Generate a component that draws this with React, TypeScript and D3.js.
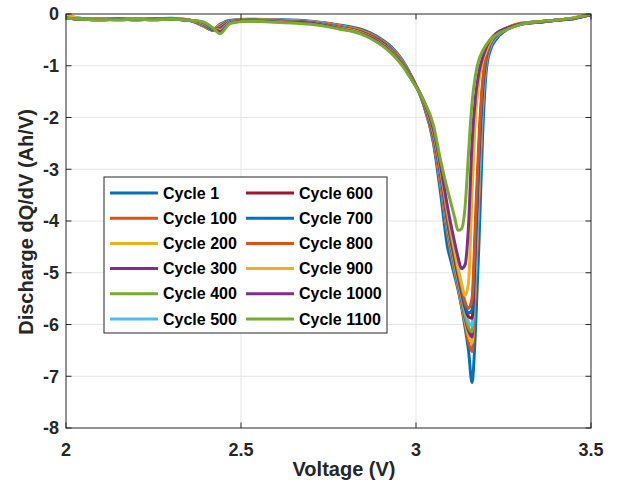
import React from 'react';
import * as d3 from 'd3';

// voltage grid shared by all cycles (V)
const voltage = [
  2.0, 2.05, 2.1, 2.15, 2.2, 2.25, 2.3, 2.35, 2.39, 2.42, 2.44, 2.47,
  2.52, 2.6, 2.7, 2.78, 2.84, 2.89, 2.93, 2.96, 2.99, 3.02, 3.05, 3.07,
  3.09, 3.1, 3.11, 3.12, 3.13, 3.14, 3.15, 3.16, 3.17, 3.18, 3.19, 3.2,
  3.21, 3.23, 3.26, 3.3, 3.35, 3.4, 3.45, 3.5,
];

// discharge dQ/dV (Ah/V) per cycle
const cycle1 = [
  -0.05, -0.09, -0.1, -0.09, -0.1, -0.09, -0.08, -0.11, -0.22, -0.3, -0.2, -0.12,
  -0.1, -0.11, -0.14, -0.21, -0.29, -0.44, -0.64, -0.88, -1.24, -1.72, -2.5, -3.45,
  -4.5, -4.78, -5.05, -5.32, -5.65, -6.05, -6.5, -7.12, -6.1, -4.4, -2.4, -1.15,
  -0.75, -0.48, -0.3, -0.2, -0.15, -0.12, -0.08, -0.01,
];
const cycle100 = [
  -0.07, -0.1, -0.1, -0.1, -0.1, -0.1, -0.09, -0.11, -0.23, -0.31, -0.21, -0.13,
  -0.11, -0.12, -0.15, -0.22, -0.31, -0.46, -0.66, -0.9, -1.25, -1.71, -2.46, -3.3,
  -4.25, -4.62, -4.96, -5.28, -5.62, -5.98, -6.35, -6.52, -5.3, -3.6, -1.9, -1.0,
  -0.68, -0.44, -0.29, -0.2, -0.15, -0.12, -0.08, -0.01,
];
const cycle200 = [
  0, -0.1, -0.1, -0.11, -0.1, -0.1, -0.09, -0.11, -0.22, -0.31, -0.22, -0.13,
  -0.11, -0.12, -0.15, -0.23, -0.32, -0.47, -0.67, -0.91, -1.26, -1.7, -2.43, -3.25,
  -4.2, -4.57, -4.92, -5.24, -5.57, -5.92, -6.22, -6.36, -5.1, -3.35, -1.8, -0.96,
  -0.66, -0.43, -0.29, -0.19, -0.15, -0.12, -0.08, 0,
];
const cycle300 = [
  -0.06, -0.1, -0.11, -0.1, -0.1, -0.11, -0.09, -0.12, -0.21, -0.32, -0.24, -0.13,
  -0.12, -0.13, -0.16, -0.24, -0.33, -0.48, -0.68, -0.92, -1.26, -1.69, -2.41, -3.2,
  -4.15, -4.52, -4.87, -5.2, -5.52, -5.87, -6.12, -6.24, -4.9, -3.15, -1.7, -0.93,
  -0.64, -0.42, -0.28, -0.19, -0.16, -0.12, -0.09, -0.01,
];
const cycle400 = [
  -0.07, -0.1, -0.1, -0.1, -0.11, -0.1, -0.1, -0.12, -0.2, -0.31, -0.26, -0.14,
  -0.12, -0.13, -0.16, -0.25, -0.33, -0.49, -0.69, -0.93, -1.27, -1.68, -2.39, -3.15,
  -4.1, -4.47, -4.82, -5.15, -5.47, -5.82, -6.05, -6.14, -4.75, -3.0, -1.62, -0.9,
  -0.63, -0.42, -0.28, -0.19, -0.15, -0.12, -0.08, -0.01,
];
const cycle500 = [
  -0.06, -0.09, -0.1, -0.1, -0.1, -0.1, -0.09, -0.11, -0.19, -0.3, -0.27, -0.14,
  -0.12, -0.13, -0.16, -0.25, -0.34, -0.5, -0.7, -0.94, -1.27, -1.68, -2.37, -3.12,
  -4.05, -4.42, -4.77, -5.1, -5.42, -5.75, -5.95, -6.02, -4.95, -3.2, -1.7, -0.94,
  -0.65, -0.43, -0.28, -0.19, -0.15, -0.12, -0.08, -0.01,
];
const cycle600 = [
  -0.07, -0.1, -0.1, -0.11, -0.1, -0.1, -0.1, -0.12, -0.18, -0.3, -0.28, -0.15,
  -0.12, -0.13, -0.17, -0.26, -0.34, -0.5, -0.71, -0.95, -1.27, -1.67, -2.35, -3.08,
  -4.0, -4.37, -4.72, -5.05, -5.37, -5.67, -5.85, -5.88, -4.45, -2.75, -1.5, -0.86,
  -0.61, -0.41, -0.28, -0.19, -0.15, -0.12, -0.08, -0.01,
];
const cycle700 = [
  -0.06, -0.1, -0.1, -0.1, -0.11, -0.1, -0.1, -0.12, -0.18, -0.29, -0.29, -0.15,
  -0.12, -0.14, -0.17, -0.26, -0.35, -0.51, -0.71, -0.95, -1.28, -1.67, -2.33, -3.05,
  -3.95, -4.32, -4.67, -5.0, -5.32, -5.62, -5.78, -5.72, -4.25, -2.6, -1.42, -0.84,
  -0.6, -0.4, -0.27, -0.19, -0.15, -0.12, -0.08, -0.01,
];
const cycle800 = [
  -0.07, -0.1, -0.11, -0.1, -0.1, -0.11, -0.1, -0.12, -0.17, -0.28, -0.3, -0.16,
  -0.13, -0.14, -0.17, -0.27, -0.35, -0.52, -0.72, -0.96, -1.28, -1.66, -2.31, -3.02,
  -3.9, -4.27, -4.62, -4.95, -5.27, -5.56, -5.69, -5.5, -3.95, -2.4, -1.32, -0.8,
  -0.58, -0.39, -0.27, -0.18, -0.15, -0.12, -0.08, -0.01,
];
const cycle900 = [
  0, -0.1, -0.1, -0.11, -0.1, -0.1, -0.1, -0.12, -0.17, -0.28, -0.32, -0.16,
  -0.13, -0.14, -0.18, -0.27, -0.36, -0.52, -0.73, -0.96, -1.29, -1.66, -2.28, -2.98,
  -3.82, -4.2, -4.55, -4.9, -5.2, -5.44, -5.2, -3.5, -2.0, -1.3, -0.92, -0.72,
  -0.56, -0.38, -0.27, -0.18, -0.15, -0.12, -0.07, 0,
];
const cycle1000 = [
  -0.08, -0.1, -0.11, -0.1, -0.11, -0.1, -0.1, -0.12, -0.16, -0.28, -0.34, -0.17,
  -0.13, -0.15, -0.18, -0.28, -0.37, -0.53, -0.74, -0.97, -1.29, -1.65, -2.24, -2.92,
  -3.72, -4.08, -4.4, -4.7, -4.92, -4.85, -4.1, -2.5, -1.6, -1.12, -0.85, -0.66,
  -0.52, -0.37, -0.27, -0.19, -0.16, -0.12, -0.09, -0.01,
];
const cycle1100 = [
  -0.08, -0.1, -0.11, -0.11, -0.1, -0.11, -0.1, -0.12, -0.15, -0.27, -0.38, -0.18,
  -0.14, -0.16, -0.2, -0.29, -0.38, -0.55, -0.76, -0.99, -1.3, -1.64, -2.15, -2.82,
  -3.4, -3.66, -3.92, -4.18, -4.15, -3.75, -2.7, -1.72, -1.18, -0.88, -0.72, -0.6,
  -0.51, -0.4, -0.3, -0.2, -0.15, -0.12, -0.08, 0,
];

const cycleNames = [
  'Cycle 1', 'Cycle 100', 'Cycle 200', 'Cycle 300', 'Cycle 400', 'Cycle 500',
  'Cycle 600', 'Cycle 700', 'Cycle 800', 'Cycle 900', 'Cycle 1000', 'Cycle 1100',
];
const cycleColors = [
  '#0072BD', '#D95319', '#EDB120', '#7E2F8E', '#77AC30', '#4DBEEE',
  '#A2142F', '#0072BD', '#D95319', '#EDB120', '#7E2F8E', '#77AC30',
];
const cycleValues = [
  cycle1, cycle100, cycle200, cycle300, cycle400, cycle500,
  cycle600, cycle700, cycle800, cycle900, cycle1000, cycle1100,
];

const xTicks = [2, 2.5, 3, 3.5];
const yTicks = [0, -1, -2, -3, -4, -5, -6, -7, -8];

const W = 617;
const H = 482;
const font = '"Liberation Sans", Arial, Helvetica, sans-serif';
const ink = '#262626';

export default function App() {
  const x = d3.scaleLinear().domain([2, 3.5]).range([66, 591]);
  const y = d3.scaleLinear().domain([-8, 0]).range([428, 14]);
  const [x0, x1] = x.range();
  const [y0, y1] = [y(0), y(-8)];

  const line = d3
    .line<number>()
    .x((_, i) => x(voltage[i]))
    .y((d) => y(d))
    .curve(d3.curveMonotoneX);

  const tick = 5.5;

  // legend layout
  const lgX = 104, lgY = 177, lgW = 283, lgH = 156;
  const rowY = (r: number) => lgY + 16 + r * 25.2;
  const colX = [lgX + 6, lgX + 142];

  return (
    <svg
      width={W}
      height={H}
      style={{ position: 'absolute', left: 0, top: 0, background: '#fff' }}
      fontFamily={font}
      fontWeight="bold"
    >
      <defs>
        <clipPath id="plotArea">
          <rect x={x0} y={y0} width={x1 - x0} height={y1 - y0} />
        </clipPath>
      </defs>
      <rect x={0} y={0} width={W} height={H} fill="#fff" />

      {/* grid */}
      <g stroke="#e5e5e5" strokeWidth={1}>
        {xTicks.slice(1, -1).map((t) => (
          <line key={'gx' + t} x1={x(t)} x2={x(t)} y1={y0} y2={y1} />
        ))}
        {yTicks.slice(1, -1).map((t) => (
          <line key={'gy' + t} x1={x0} x2={x1} y1={y(t)} y2={y(t)} />
        ))}
      </g>

      {/* curves */}
      <g clipPath="url(#plotArea)" fill="none" strokeWidth={3} strokeLinejoin="round" strokeLinecap="round">
        {cycleValues.map((vals, i) => (
          <path key={cycleNames[i]} d={line(vals) || ''} stroke={cycleColors[i]} />
        ))}
      </g>

      {/* box + ticks */}
      <rect x={x0} y={y0} width={x1 - x0} height={y1 - y0} fill="none" stroke={ink} strokeWidth={1} />
      <g stroke={ink} strokeWidth={1}>
        {xTicks.map((t) => (
          <g key={'tx' + t}>
            <line x1={x(t)} x2={x(t)} y1={y1} y2={y1 - tick} />
            <line x1={x(t)} x2={x(t)} y1={y0} y2={y0 + tick} />
          </g>
        ))}
        {yTicks.map((t) => (
          <g key={'ty' + t}>
            <line x1={x0} x2={x0 + tick} y1={y(t)} y2={y(t)} />
            <line x1={x1} x2={x1 - tick} y1={y(t)} y2={y(t)} />
          </g>
        ))}
      </g>

      {/* tick labels */}
      <g fill={ink} fontSize={18}>
        {xTicks.map((t) => (
          <text key={'lx' + t} x={x(t)} y={456} textAnchor="middle">
            {String(t)}
          </text>
        ))}
        {yTicks.map((t) => (
          <text key={'ly' + t} x={59} y={y(t)} dy="0.35em" textAnchor="end">
            {String(t)}
          </text>
        ))}
      </g>

      {/* axis titles */}
      <text x={344} y={476} textAnchor="middle" fontSize={20} fill={ink}>
        Voltage (V)
      </text>
      <text
        transform={`translate(33, ${(y0 + y1) / 2 + 1}) rotate(-90)`}
        textAnchor="middle"
        fontSize={20}
        fill={ink}
      >
        Discharge dQ/dV (Ah/V)
      </text>

      {/* legend */}
      <rect x={lgX} y={lgY} width={lgW} height={lgH} fill="#fff" stroke={ink} strokeWidth={1} />
      {cycleNames.map((name, i) => {
        const col = Math.floor(i / 6);
        const row = i % 6;
        const cx = colX[col];
        const cy = rowY(row);
        return (
          <g key={'lg' + name}>
            <line x1={cx} x2={cx + 48} y1={cy} y2={cy} stroke={cycleColors[i]} strokeWidth={3} />
            <text x={cx + 53} y={cy} dy="0.35em" fontSize={16} fill="#000">
              {name}
            </text>
          </g>
        );
      })}
    </svg>
  );
}
